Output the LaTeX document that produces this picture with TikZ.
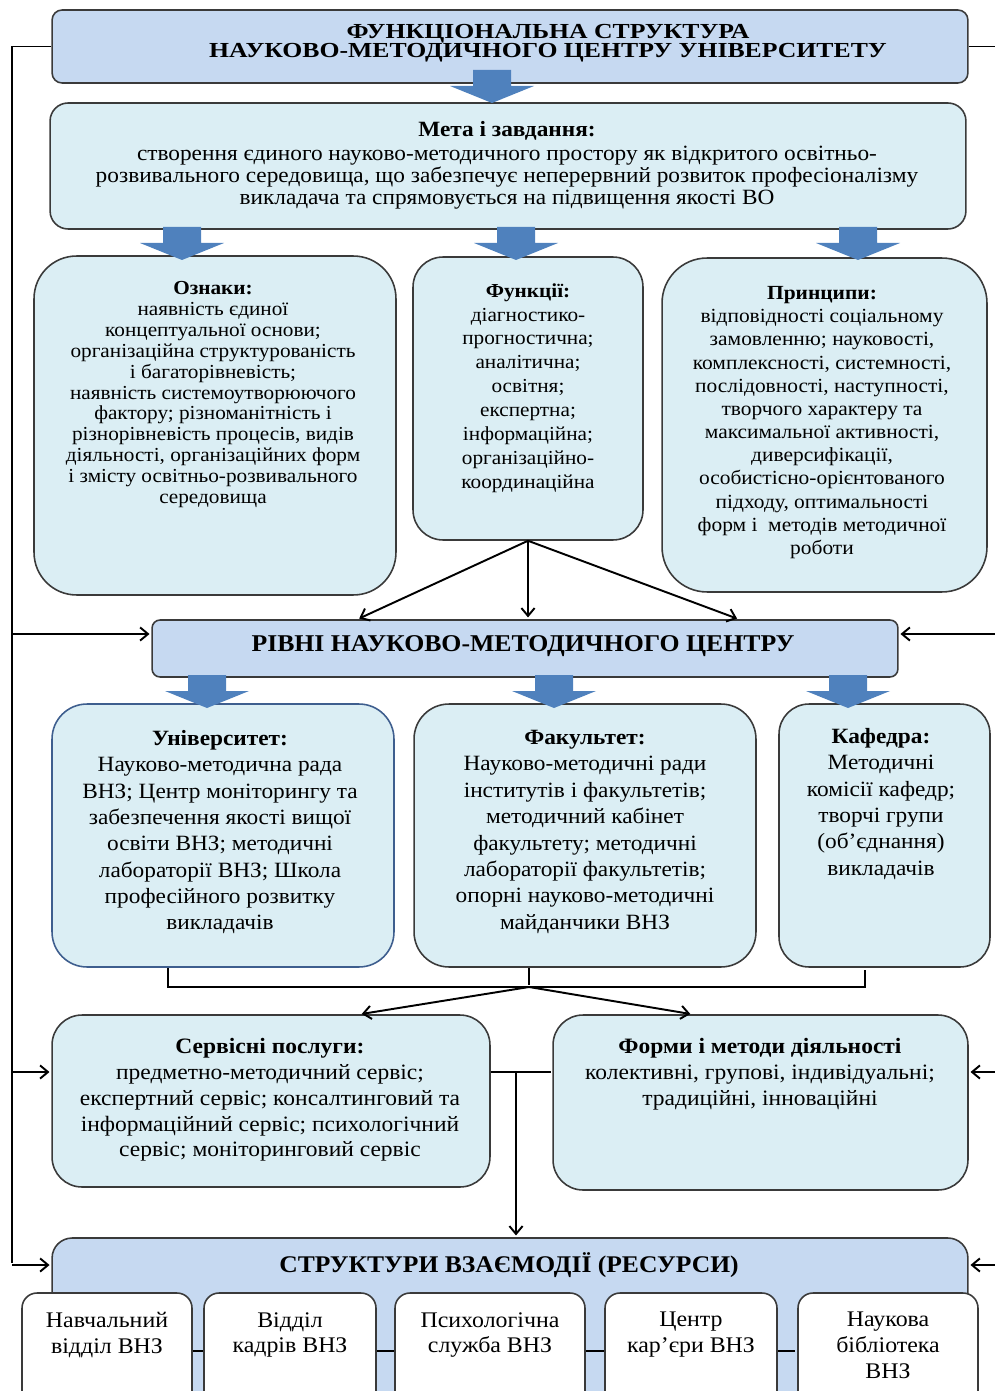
\documentclass[tikz,border=0pt]{standalone}
\usepackage{fontspec}
\setmainfont[FakeStretch=1.07]{Liberation Serif}
\newfontfamily\titlefont[FakeStretch=1.2]{Liberation Serif}
\usetikzlibrary{calc,arrows,arrows.meta,positioning}
\definecolor{headblue}{HTML}{C6D9F1}
\definecolor{boxcyan}{HTML}{DBEEF4}
\definecolor{arrowblue}{HTML}{4F81BD}
\definecolor{edgegray}{HTML}{3A3A3A}
\definecolor{edgeblue}{HTML}{3E5E8E}
\newcommand{\tightlines}{\lineskiplimit=-20pt\relax}
\tikzset{
     head box/.style = {draw=edgegray, fill=headblue, line width=0.9pt, inner sep=0pt},
     info box/.style = {draw=edgegray, fill=boxcyan, line width=0.9pt, inner sep=0pt},
     res item/.style = {draw=edgegray, fill=white, line width=0.9pt, inner sep=0pt,
                        rounded corners=0.3cm, minimum height=2.32cm},
     box text/.style = {align=center, inner sep=0pt, anchor=north},
     big font/.style = {font=\bfseries\fontsize{#1}{9.8}\selectfont\tightlines},
     big font/.default = 13.6,
     body font/.style args={#1/#2}{font=\fontsize{#1}{#2}\selectfont\tightlines},
      link/.style   = {black, line width=1.1pt},
      flow/.style = {black, line width=1.1pt, ->, >={Straight Barb[length=4.5pt,width=7.5pt]}},
    }
% blue block arrow, tip at #1
\newcommand{\downblock}[1]{%
  \fill[arrowblue, shift={(#1)}] (-19,-33) -- (19,-33) -- (19,-17) -- (42,-17)
    -- (0,0) -- (-42,-17) -- (-19,-17) -- cycle;}

\begin{document}
\begin{tikzpicture}[x=0.02cm, y=-0.02cm, shorten >=1pt]
  \useasboundingbox (0,0) rectangle (994,1391);

  % boxes
  \node [head box, rounded corners=0.2cm, minimum width=18.32cm, minimum height=1.46cm] (title) at (510,46.5) {};
  \node [info box, rounded corners=0.36cm, minimum width=18.32cm, minimum height=2.52cm] (goal) at (508,166) {};
  \node [info box, rounded corners=0.85cm, minimum width=7.24cm, minimum height=6.78cm] (signs) at (215,425.5) {};
  \node [info box, rounded corners=0.6cm, minimum width=4.6cm, minimum height=5.66cm] (func) at (528,398.5) {};
  \node [info box, rounded corners=0.9cm, minimum width=6.5cm, minimum height=6.68cm] (princ) at (824.5,425) {};
  \node [head box, rounded corners=0.16cm, minimum width=14.92cm, minimum height=1.14cm] (levels) at (525,648.5) {};
  \node [info box, draw=edgeblue, rounded corners=0.7cm, minimum width=6.84cm, minimum height=5.26cm] (univ) at (223,835.5) {};
  \node [info box, rounded corners=0.7cm, minimum width=6.84cm, minimum height=5.26cm] (fac) at (585,835.5) {};
  \node [info box, rounded corners=0.6cm, minimum width=4.22cm, minimum height=5.26cm] (dept) at (884.5,835.5) {};
  \node [info box, rounded corners=0.6cm, minimum width=8.76cm, minimum height=3.44cm] (serv) at (271,1101) {};
  \node [info box, rounded corners=0.6cm, minimum width=8.3cm, minimum height=3.5cm] (forms) at (760.5,1102.5) {};
  \node [head box, rounded corners=0.4cm, minimum width=18.32cm, minimum height=4.04cm] (res) at (510,1339) {};

  % resources
  \node [res item, minimum width=3.4cm] (r1) at (107,1351) {};
  \node [res item, minimum width=3.44cm] (r2) at (290,1351) {};
  \node [res item, minimum width=3.8cm] (r3) at (490,1351) {};
  \node [res item, minimum width=3.44cm] (r4) at (691,1351) {};
  \node [res item, minimum width=3.6cm] (r5) at (888,1351) {};
  \draw [link] (r1) -- (r2) (r2) -- (r3) (r3) -- (r4) (r4) -- (r5);

  % texts
  \node [box text, font=\titlefont\bfseries\fontsize{12.2}{10.7}\selectfont\tightlines] (title-t) at (548,24)
        {ФУНКЦІОНАЛЬНА СТРУКТУРА\\НАУКОВО-МЕТОДИЧНОГО ЦЕНТРУ УНІВЕРСИТЕТУ};
  \node [box text, body font=12.4/12.5] (goal-t) at (507,121)
        {\textbf{Мета і завдання:}\\[1pt]
         створення єдиного науково-методичного простору як відкритого освітньо-\\
         розвивального середовища, що забезпечує неперервний розвиток професіоналізму\\
         викладача та спрямовується на підвищення якості ВО};
  \node [box text, body font=11.3/11.9] (signs-t) at (213,281)
        {\textbf{Ознаки:}\\наявність єдиної\\концептуальної основи;\\організаційна структурованість\\
         і багаторівневість;\\наявність системоутворюючого\\фактору; різноманітність і\\
         різнорівневість процесів, видів\\діяльності, організаційних форм\\
         і змісту освітньо-розвивального\\середовища};
  \node [box text, body font=11.3/13.6] (func-t) at (528,283)
        {\textbf{Функції:}\\діагностико-\\прогностична;\\аналітична;\\освітня;\\експертна;\\
         інформаційна;\\організаційно-\\координаційна};
  \node [box text, body font=11.4/13.2] (princ-t) at (822,286)
        {\textbf{Принципи:}\\відповідності соціальному\\замовленню; науковості,\\
         комплексності, системності,\\послідовності, наступності,\\творчого характеру та\\
         максимальної активності,\\диверсифікації,\\особистісно-орієнтованого\\
         підходу, оптимальності\\форм і\ \ методів методичної\\роботи};
  \node [box text, big font=13.7] (levels-t) at (523,635)
        {РІВНІ НАУКОВО-МЕТОДИЧНОГО ЦЕНТРУ};
  \node [box text, body font=12.4/15] (univ-t) at (220,730)
        {\textbf{Університет:}\\Науково-методична рада\\ВНЗ; Центр моніторингу та\\
         забезпечення якості вищої\\освіти ВНЗ; методичні\\лабораторії ВНЗ; Школа\\
         професійного розвитку\\викладачів};
  \node [box text, body font=12.4/15] (fac-t) at (585,730)
        {\textbf{Факультет:}\\Науково-методичні ради\\інститутів і факультетів;\\
         методичний кабінет\\факультету; методичні\\лабораторії факультетів;\\
         опорні науково-методичні\\майданчики ВНЗ};
  \node [box text, body font=12.4/15] (dept-t) at (881,728)
        {\textbf{Кафедра:}\\Методичні\\комісії кафедр;\\творчі групи\\(об’єднання)\\викладачів};
  \node [box text, body font=12.5/14.7] (serv-t) at (270,1038)
        {\textbf{Сервісні послуги:}\\предметно-методичний сервіс;\\
         експертний сервіс; консалтинговий та\\інформаційний сервіс; психологічний\\
         сервіс; моніторинговий сервіс};
  \node [box text, body font=12.5/14.7] (forms-t) at (760,1038)
        {\textbf{Форми і методи діяльності}\\колективні, групові, індивідуальні;\\
         традиційні, інноваційні};
  \node [box text, big font=13.6, anchor=center] (res-t) at (509,1265)
        {СТРУКТУРИ ВЗАЄМОДІЇ (РЕСУРСИ)};
  \node [box text, body font=12.7/14.7] (r1-t) at (107,1312) {Навчальний\\відділ ВНЗ};
  \node [box text, body font=12.7/14.7] (r2-t) at (290,1312) {Відділ\\кадрів ВНЗ};
  \node [box text, body font=12.7/14.7] (r3-t) at (490,1312) {Психологічна\\служба ВНЗ};
  \node [box text, body font=12.7/14.7] (r4-t) at (691,1312) {Центр\\кар’єри ВНЗ};
  \node [box text, body font=12.7/14.7] (r5-t) at (888,1312) {Наукова\\бібліотека\\ВНЗ};

  % block arrows
  \downblock{492,103}
  \downblock{182,260} \downblock{516,260} \downblock{858,260}
  \downblock{207,708} \downblock{554,708} \downblock{848,708}

  % side buses
  \coordinate (lb) at (12,46.5);
  \coordinate (rb) at (1000,46.5);
  \coordinate (lv) at (12,634);
  \coordinate (mid) at (516,1072);
  \coordinate (hub) at (529,987);
  \draw [link] (title.west) -- (lb) -- (lb |- res-t);
  \draw [link] (title.east) -- (rb) -- (rb |- res-t);
  \draw [flow] (lv) -- (levels.west |- lv);
  \draw [flow] (rb |- lv) -- (levels.east |- lv);
  \draw [flow] (lb |- mid) -- (serv.west |- mid);
  \draw [flow] (rb |- mid) -- (forms.east |- mid);
  \draw [flow] (lb |- res-t) -- (res.west |- res-t);
  \draw [flow] (rb |- res-t) -- (res.east |- res-t);

  % functions to levels
  \draw [flow] (func.south) -- ($(levels.north west)!0.276!(levels.north east)$);
  \draw [flow] (func.south) -- (func.south |- levels.north);
  \draw [flow] (func.south) -- ($(levels.north west)!0.786!(levels.north east)$);

  % levels to services
  \draw [link] ([xshift=-1.1cm]univ.south) |- ([xshift=-0.39cm]dept.south |- hub) -- ([xshift=-0.39cm]dept.south);
  \draw [link] (hub |- fac.south) -- (hub);
  \draw [flow] (hub) -- ([xshift=1.78cm]serv.north);
  \draw [flow] (hub) -- ([xshift=-1.37cm]forms.north);
  \draw [link] (serv.east |- mid) -- (forms.west |- mid);
  \draw [flow] (mid) -- (mid |- res.north);
\end{tikzpicture}
\end{document}
